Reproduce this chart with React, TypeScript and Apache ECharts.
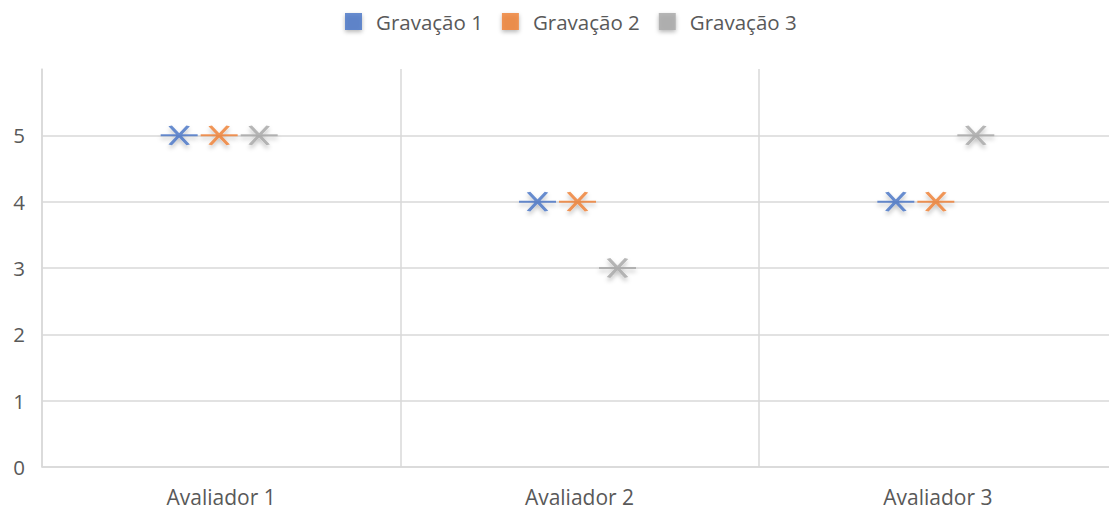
import React, { useEffect, useRef } from "react";
import * as echarts from "echarts";

// Ratings given by each evaluator to each recording
const categories = ["Avaliador 1", "Avaliador 2", "Avaliador 3"];
const seriesNames = ["Gravação 1", "Gravação 2", "Gravação 3"];
const gravacao1 = [5, 4, 4];
const gravacao2 = [5, 4, 4];
const gravacao3 = [5, 3, 5];
const yTicks = [0, 1, 2, 3, 4, 5, 6];

const seriesData = [gravacao1, gravacao2, gravacao3];
const colors = ["#4472C4", "#ED7D31", "#A5A5A5"];
const offsets = [-42, -2, 38];

// Star marker: an X crossed by a horizontal dash
const STAR = "path://M0 9.5L37 9.5M9.5 0.5L27.5 18.5M27.5 0.5L9.5 18.5";

export default function App() {
  const ref = useRef<HTMLDivElement>(null);

  useEffect(() => {
    document.body.style.margin = "0";
    const chart = echarts.init(ref.current!, null, { renderer: "svg" });
    const font = "'Open Sans', 'Noto Sans', sans-serif";
    chart.setOption({
      animation: false,
      textStyle: { fontFamily: font },
      legend: {
        top: 6,
        left: 340,
        itemWidth: 17,
        itemHeight: 17,
        itemGap: 19,
        icon: "rect",
        textStyle: {
          color: "#595959",
          fontSize: 20.5,
          fontFamily: font,
          padding: [0, 0, 0, 9],
        },
        data: seriesNames.map((n, i) => ({
          name: n,
          itemStyle: {
            color: colors[i],
            borderWidth: 0,
            shadowBlur: 4,
            shadowColor: "rgba(0,0,0,0.35)",
            shadowOffsetY: 2,
          },
        })),
      },
      grid: { left: 42, right: 0, top: 69, bottom: 46 },
      xAxis: {
        type: "category",
        data: categories,
        boundaryGap: true,
        axisLine: { show: true, lineStyle: { color: "#d9d9d9", width: 1.5 } },
        axisTick: { show: false },
        axisLabel: { color: "#595959", fontSize: 21, margin: 19, fontFamily: font },
        splitLine: { show: true, lineStyle: { color: "#d9d9d9", width: 1.5 } },
      },
      yAxis: {
        type: "value",
        min: yTicks[0],
        max: yTicks[yTicks.length - 1],
        interval: 1,
        axisLine: { show: true, lineStyle: { color: "#d9d9d9", width: 1.5 } },
        axisTick: { show: false },
        axisLabel: {
          color: "#595959",
          fontSize: 20.5,
          margin: 17,
          fontFamily: font,
          formatter: (v: number) => (v === yTicks[yTicks.length - 1] ? "" : String(v)),
        },
        splitLine: {
          show: true,
          lineStyle: {
            width: 1.5,
            color: yTicks.map((t, i) => (i === yTicks.length - 1 ? "rgba(0,0,0,0)" : "#d9d9d9")),
          },
        },
      },
      series: seriesNames.map((name, i) => ({
        name,
        type: "scatter",
        data: seriesData[i],
        symbol: STAR,
        symbolSize: [37, 19],
        symbolOffset: [offsets[i], 0],
        itemStyle: {
          color: "rgba(0,0,0,0)",
          borderColor: colors[i],
          borderWidth: 2.8,
          shadowBlur: 4,
          shadowColor: "rgba(0,0,0,0.3)",
          shadowOffsetY: 3,
        },
        emphasis: { disabled: true },
      })),
    });
    return () => chart.dispose();
  }, []);

  // The plot extends a few pixels past the visible right edge
  return (
    <div style={{ width: 1109, height: 513, overflow: "hidden" }}>
      <div ref={ref} style={{ width: 1117, height: 513 }} />
    </div>
  );
}
